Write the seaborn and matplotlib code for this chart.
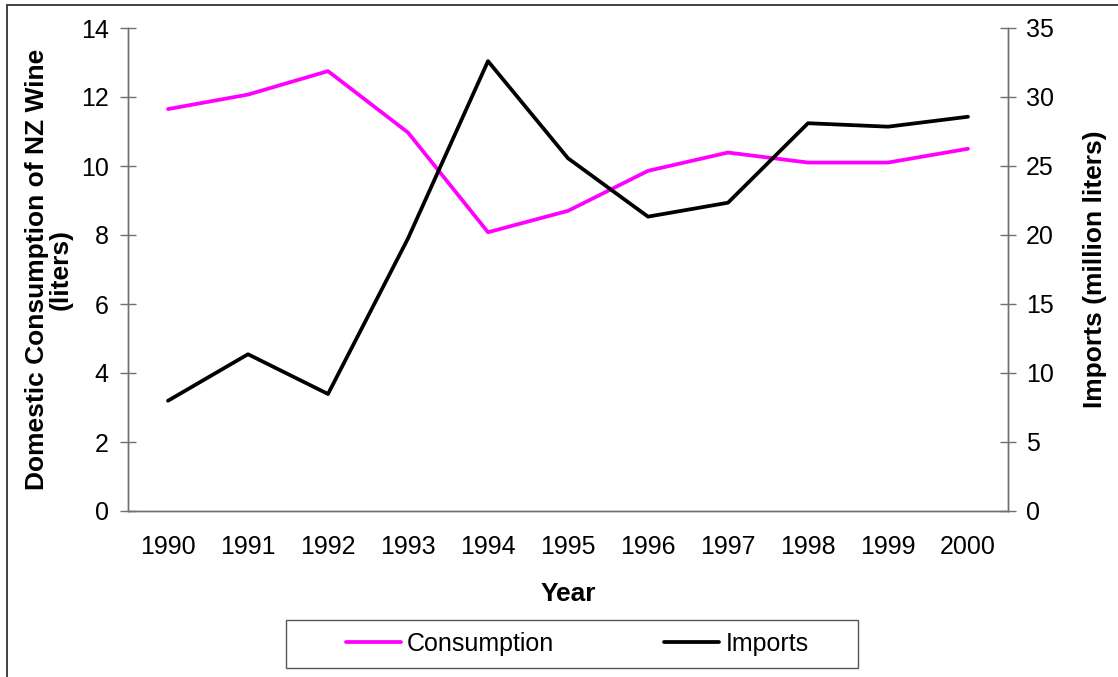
import matplotlib
matplotlib.use('Agg')
import matplotlib.pyplot as plt
from matplotlib.patches import Rectangle
import pandas as pd
import seaborn as sns

# values
years = [1990, 1991, 1992, 1993, 1994, 1995, 1996, 1997, 1998, 1999, 2000]
consumption = [11.65, 12.07, 12.75, 10.97, 8.08, 8.70, 9.86, 10.39, 10.10, 10.10, 10.50]
imports = [7.99, 11.36, 8.48, 19.75, 32.60, 25.56, 21.33, 22.34, 28.10, 27.85, 28.57]
left_ticks = [0, 2, 4, 6, 8, 10, 12, 14]
right_ticks = [0, 5, 10, 15, 20, 25, 30, 35]

sns.set_theme(style='white')
plt.rcParams['font.family'] = ['Liberation Sans', 'DejaVu Sans']
plt.rcParams['text.color'] = 'black'
plt.rcParams['axes.labelcolor'] = 'black'
plt.rcParams['xtick.color'] = 'black'
plt.rcParams['ytick.color'] = 'black'

df = pd.DataFrame({'year': years, 'Consumption': consumption, 'Imports': imports})

W, H = 1118, 677
fig = plt.figure(figsize=(W / 100, H / 100), dpi=100)
ax = fig.add_axes([128 / W, 166 / H, 880 / W, 483 / H])
ax2 = ax.twinx()

sns.lineplot(data=df, x='year', y='Consumption', ax=ax, color='#FF00FF',
             linewidth=2.7, legend=False)
sns.lineplot(data=df, x='year', y='Imports', ax=ax2, color='black',
             linewidth=2.7, legend=False)

axis_col = '#707070'
fs = 18      # tick and legend text
lfs = 19     # bold axis titles

ax.set_xlim(years[0] - 0.5, years[-1] + 0.5)
ax.set_ylim(left_ticks[0], left_ticks[-1])
ax2.set_ylim(right_ticks[0], right_ticks[-1])

ax.set_xticks(years, labels=[str(y) for y in years])
ax.set_xticks([y - 0.5 for y in years] + [years[-1] + 0.5], minor=True)
ax.set_yticks(left_ticks)
ax2.set_yticks(right_ticks)

ax.tick_params(axis='x', which='major', length=0, labelsize=fs, pad=17, labelcolor='black')
ax.tick_params(axis='x', which='minor', direction='inout', length=12, width=1, color=axis_col)
ax.tick_params(axis='y', direction='inout', length=12, width=1, color=axis_col,
               labelsize=fs, pad=8, left=True, labelcolor='black')
ax2.tick_params(axis='y', direction='inout', length=12, width=1, color=axis_col,
                labelsize=fs, pad=7, right=True, labelcolor='black')

for a in (ax, ax2):
    a.spines['top'].set_visible(False)
    for pos in ['left', 'right', 'bottom']:
        a.spines[pos].set_color(axis_col)
        a.spines[pos].set_linewidth(1)
    a.grid(False)

ax.set_xlabel('Year', fontsize=lfs, fontweight='bold')
ax.xaxis.set_label_coords(0.5, -0.147)
ax.set_ylabel('Domestic Consumption of NZ Wine\n(liters)', fontsize=lfs,
              fontweight='bold', linespacing=1.0)
ax.yaxis.set_label_coords(-0.0625, 0.5)
ax2.set_ylabel('Imports (million liters)', fontsize=lfs, fontweight='bold')
ax2.yaxis.set_label_coords(1.0855, 0.5)

handles = [ax.get_lines()[0], ax2.get_lines()[0]]
fig.legend(handles, ['Consumption', 'Imports'], loc='center',
           bbox_to_anchor=(577 / W, 1 - 644 / H), ncol=2, frameon=False,
           fontsize=fs, handlelength=2.2, handletextpad=0.25, columnspacing=4.4)

# legend box and the outer chart frame
fig.add_artist(Rectangle((286 / W, 1 - 668 / H), (858 - 286) / W, 48 / H,
                         transform=fig.transFigure, fill=False,
                         edgecolor='#555555', linewidth=1))
fig.add_artist(Rectangle((7 / W, -0.05), 1.0, 1 - 5 / H + 0.05,
                         transform=fig.transFigure, fill=False,
                         edgecolor='#333333', linewidth=1.3, clip_on=False))

fig.savefig('out.png', dpi=100)
